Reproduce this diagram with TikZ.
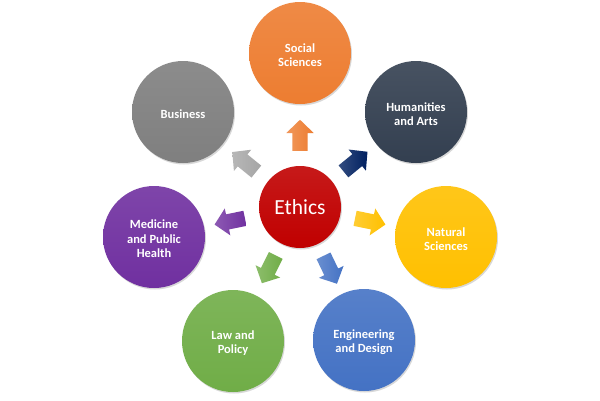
\documentclass[tikz,border=0pt]{standalone}
\usepackage{fontspec}
\setmainfont{Carlito}
\usetikzlibrary{shapes.arrows,shadows,calc}
\definecolor{cOrange}{HTML}{ED7D31}
\definecolor{cSlate}{HTML}{333F50}
\definecolor{cYellow}{HTML}{FFC000}
\definecolor{cBlue}{HTML}{4472C4}
\definecolor{cGreen}{HTML}{70AD47}
\definecolor{cPurple}{HTML}{7030A0}
\definecolor{cGray}{HTML}{7F7F7F}
\definecolor{cLightGray}{HTML}{A5A5A5}
\definecolor{cNavy}{HTML}{002060}
\definecolor{cRed}{HTML}{C00000}
\begin{document}
\begin{tikzpicture}[x=1pt,y=-1pt,
  bubble/.style={circle, minimum size=102pt, inner sep=0pt,
    top color=#1!90!white, bottom color=#1,
    drop shadow={shadow xshift=1pt, shadow yshift=-1.5pt, opacity=0.3}},
  lbl/.style={text=white, align=center, inner sep=0pt, yshift=-2pt,
    font=\fontsize{12.5}{14.5}\selectfont\bfseries},
  blockarrow/.style={single arrow, draw=none, minimum height=31pt, inner xsep=0pt,
    inner ysep=7.5pt, single arrow head extend=6pt, single arrow tip angle=92,
    left color=#1!80!white, right color=#1}]
\useasboundingbox (0,0) rectangle (600,400);
\fill[white] (0,0) rectangle (600,400);

\node[bubble=cRed, minimum size=82pt, text=white, font=\fontsize{21.5}{24}\selectfont] (ethics) at (300,207) {Ethics};

\node[bubble=cOrange, label={[lbl]center:Social\\Sciences}] (soc) at (300,53) {};
\node[bubble=cSlate, label={[lbl]center:Humanities\\and Arts}] (hum) at (416,112) {};
\node[bubble=cYellow, label={[lbl]center:Natural\\Sciences}] (nat) at (446,237) {};
\node[bubble=cBlue, label={[lbl]center:Engineering\\and Design}] (eng) at (364,340) {};
\node[bubble=cGreen, label={[lbl]center:Law and\\Policy}] (law) at (233,341) {};
\node[bubble=cPurple, label={[lbl]center:Medicine\\and Public\\Health}] (med) at (154,237) {};
\node[bubble=cGray, label={[lbl]center:Business}] (bus) at (183,112) {};

\node[blockarrow=cOrange, rotate=90] (a1) at ($(ethics)!68pt!(soc)$) {};
\node[blockarrow=cNavy, rotate=39.3] (a2) at ($(ethics)!68pt!(hum)$) {};
\node[blockarrow=cYellow, rotate=-11.6] (a3) at ($(ethics)!68pt!(nat)$) {};
\node[blockarrow=cBlue, rotate=-64.3] (a4) at ($(ethics)!66pt!(eng)$) {};
\node[blockarrow=cGreen, rotate=-116.6] (a5) at ($(ethics)!66pt!(law)$) {};
\node[blockarrow=cPurple, rotate=-168.4] (a6) at ($(ethics)!68pt!(med)$) {};
\node[blockarrow=cLightGray, rotate=140.9] (a7) at ($(ethics)!68pt!(bus)$) {};
\end{tikzpicture}
\end{document}
